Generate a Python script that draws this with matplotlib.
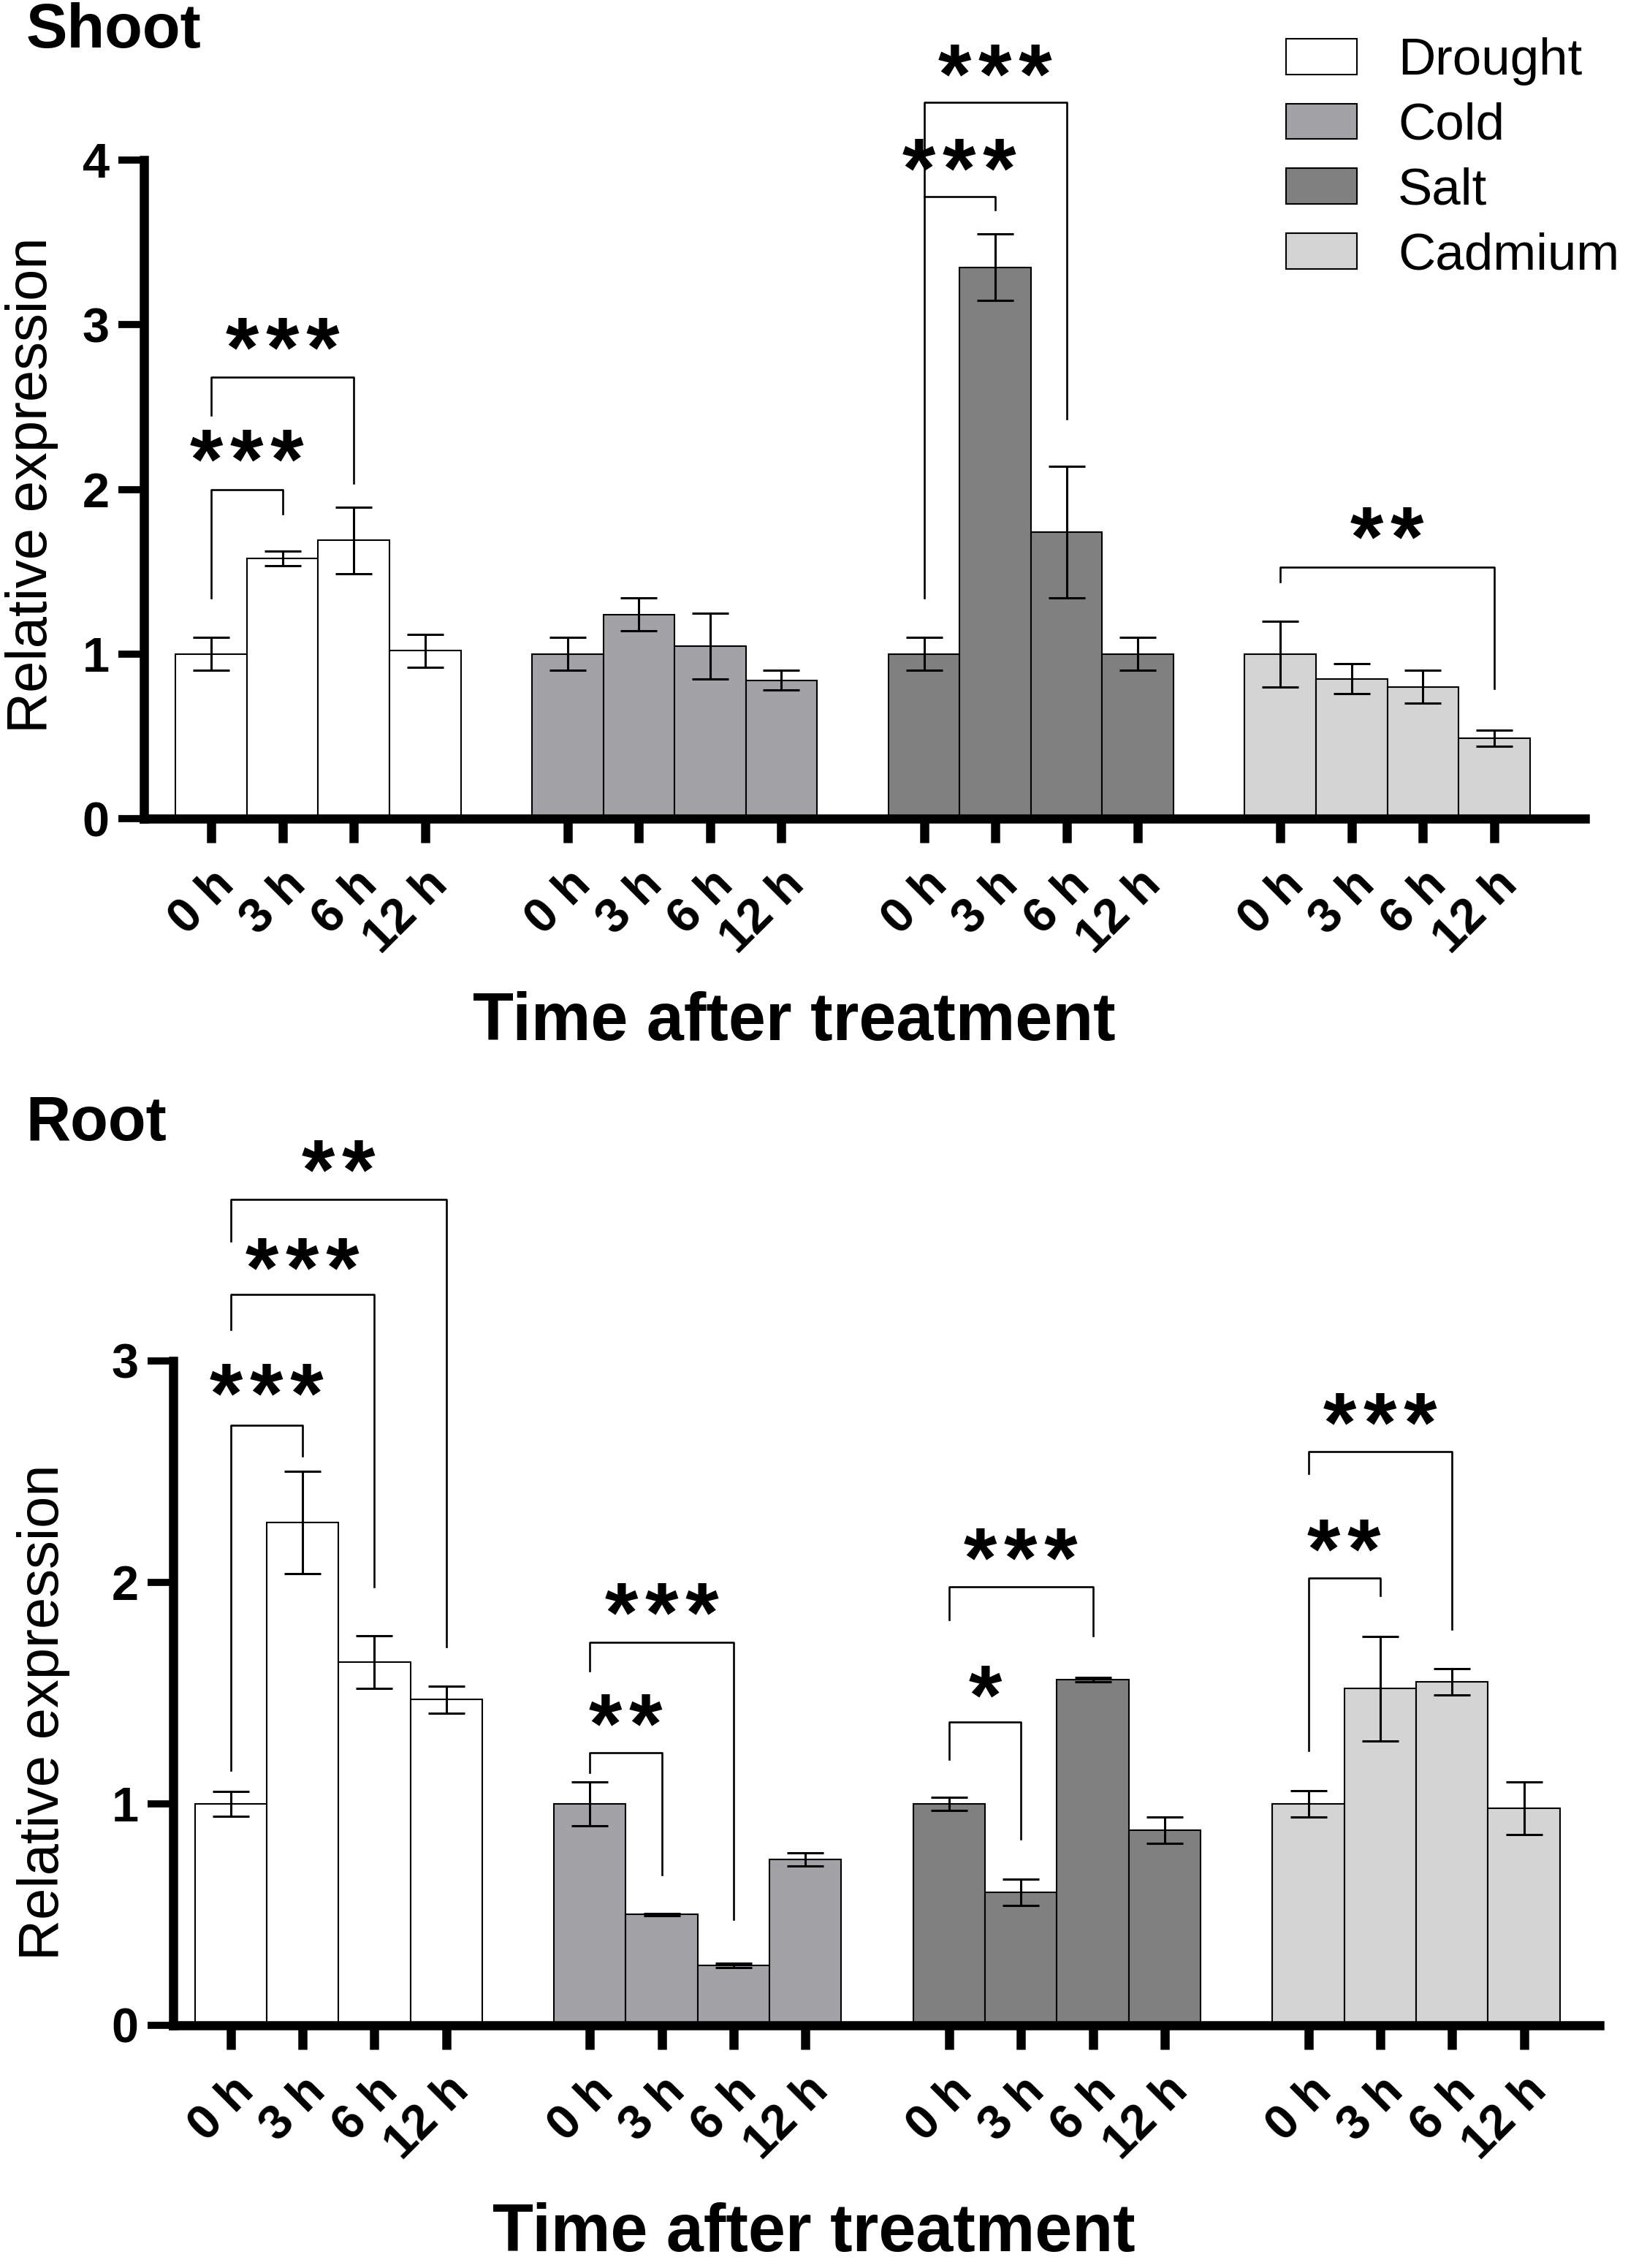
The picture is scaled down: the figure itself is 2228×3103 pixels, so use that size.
import matplotlib
matplotlib.use("Agg")
import matplotlib.pyplot as plt
import matplotlib.transforms as mtrans
from matplotlib.patches import Patch

plt.rcParams['font.family'] = ['Liberation Sans', 'DejaVu Sans']

times = ['0 h', '3 h', '6 h', '12 h']
treatments = ['Drought', 'Cold', 'Salt', 'Cadmium']
colors = ['#ffffff', '#a3a3a7', '#808080', '#d4d4d4']

shoot_mean = [[1.0, 1.58, 1.69, 1.02],
              [1.0, 1.24, 1.05, 0.84],
              [1.0, 3.35, 1.74, 1.00],
              [1.0, 0.85, 0.80, 0.49]]
shoot_err = [[0.10, 0.045, 0.20, 0.10],
             [0.10, 0.10, 0.20, 0.06],
             [0.10, 0.20, 0.40, 0.10],
             [0.20, 0.09, 0.10, 0.05]]

root_mean = [[1.0, 2.27, 1.64, 1.47],
             [1.0, 0.50, 0.27, 0.75],
             [1.0, 0.60, 1.56, 0.88],
             [1.0, 1.52, 1.55, 0.98]]
root_err = [[0.055, 0.23, 0.12, 0.06],
            [0.10, 0.005, 0.01, 0.03],
            [0.03, 0.06, 0.01, 0.06],
            [0.06, 0.235, 0.06, 0.12]]

# (group, bar a, bar b, bracket y, left leg end, right leg end, label, label y)
shoot_sig = [(0, 0, 1, 2.00, 1.34, 1.85, '***', 2.26),
             (0, 0, 2, 2.68, 2.45, 2.04, '***', 2.94),
             (2, 0, 1, 3.78, 1.34, 3.70, '***', 4.03),
             (2, 0, 2, 4.35, 3.78, 2.43, '***', 4.60),
             (3, 0, 3, 1.53, 1.44, 0.79, '**', 1.79)]

root_sig = [(0, 0, 1, 2.71, 1.15, 2.57, '***', 2.91),
            (0, 0, 2, 3.30, 3.14, 1.98, '***', 3.48),
            (0, 0, 3, 3.73, 3.54, 1.71, '**', 3.92),
            (1, 0, 1, 1.23, 1.14, 0.68, '**', 1.42),
            (1, 0, 2, 1.73, 1.60, 0.48, '***', 1.92),
            (2, 0, 1, 1.37, 1.20, 0.84, '*', 1.55),
            (2, 0, 2, 1.98, 1.83, 1.76, '***', 2.17),
            (3, 0, 1, 2.02, 1.24, 1.94, '**', 2.21),
            (3, 0, 2, 2.59, 2.49, 1.79, '***', 2.78)]

STAR_FS = 84


def draw_panel(fig, ax, means, errs, sig, ymax, xlim):
    xt = []
    for g in range(4):
        xs = [5 * g + i for i in range(4)]
        xt += xs
        ax.bar(xs, means[g], width=1.0, color=colors[g], edgecolor='black',
               linewidth=1.5, zorder=2)
        ax.errorbar(xs, means[g], yerr=errs[g], fmt='none', ecolor='black',
                    elinewidth=2.2, capsize=18, capthick=2.2, zorder=3)
    for g, a, b, yb, yl, yr, lab, yt in sig:
        xa, xb = 5 * g + a, 5 * g + b
        ax.plot([xa, xa, xb, xb], [yl, yb, yb, yr], color='black', lw=1.9,
                clip_on=False, zorder=4)
        # stars sit high in the em box, so shift the baseline down
        ax.annotate('\u200a'.join(lab), ((xa + xb) / 2, yt),
                    xytext=(0, -0.5 * STAR_FS), textcoords='offset points',
                    ha='center', va='baseline', fontsize=STAR_FS,
                    fontweight='bold', annotation_clip=False)
    ax.set_xlim(*xlim)
    ax.set_ylim(0, ymax)
    ax.set_yticks(range(ymax + 1))
    ax.set_xticks(xt)
    ax.set_xticklabels(times * 4, rotation=45, ha='right', va='top',
                       rotation_mode='anchor', fontsize=48, fontweight='bold')
    shift = mtrans.ScaledTranslation(13 / 72, 0, fig.dpi_scale_trans)
    for t in ax.get_xticklabels():
        t.set_transform(t.get_transform() + shift)
    for t in ax.get_yticklabels():
        t.set_fontsize(48)
        t.set_fontweight('bold')
    ax.spines['top'].set_visible(False)
    ax.spines['right'].set_visible(False)
    ax.spines['left'].set_linewidth(9)
    ax.spines['bottom'].set_linewidth(9)
    ax.tick_params(axis='x', length=24, width=9, pad=18)
    ax.tick_params(axis='y', length=25, width=7, pad=9)
    ax.set_facecolor('none')


fig = plt.figure(figsize=(22.28, 31.03), dpi=100)

ax1 = fig.add_axes([0.0884, 0.639, 0.885, 0.2904])
draw_panel(fig, ax1, shoot_mean, shoot_err, shoot_sig, 4, (-0.945, 19.27))

ax2 = fig.add_axes([0.1064, 0.107, 0.876, 0.293])
draw_panel(fig, ax2, root_mean, root_err, root_sig, 3, (-0.8, 19.05))

fig.text(0.016, 0.986, 'Shoot', fontsize=61, fontweight='bold', va='center')
fig.text(0.016, 0.5044, 'Root', fontsize=61, fontweight='bold', va='center')
fig.text(0.488, 0.549, 'Time after treatment', fontsize=66, fontweight='bold',
         ha='center', va='center')
fig.text(0.5, 0.015, 'Time after treatment', fontsize=66, fontweight='bold',
         ha='center', va='center')
fig.text(0.0195, 0.786, 'Relative expression', fontsize=56, rotation=90,
         ha='center', va='center')
fig.text(0.0266, 0.245, 'Relative expression', fontsize=56, rotation=90,
         ha='center', va='center')

handles = [Patch(facecolor=c, edgecolor='black', linewidth=1.5) for c in colors]
fig.legend(handles, treatments, loc='upper left', bbox_to_anchor=(0.79, 0.9835),
           frameon=False, fontsize=51, handlelength=1.37, handleheight=0.68,
           handletextpad=0.79, labelspacing=0.32, borderpad=0, borderaxespad=0)

fig.savefig('out.png', dpi=100)
